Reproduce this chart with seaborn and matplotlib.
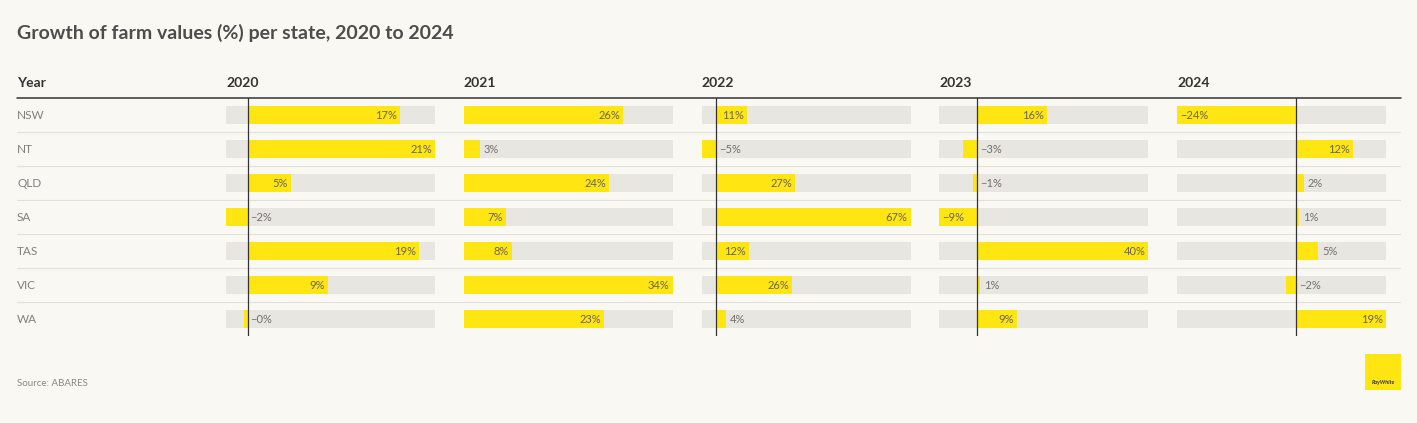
import pandas as pd
import matplotlib.pyplot as plt
import seaborn as sns
from matplotlib.patches import Rectangle

# data (one decimal, labels are rounded)
states = ['NSW', 'NT', 'QLD', 'SA', 'TAS', 'VIC', 'WA']
years = ['2020', '2021', '2022', '2023', '2024']
growth_2020 = [16.9, 20.8, 4.8, -2.4, 19.0, 8.9, -0.4]
growth_2021 = [26.1, 2.6, 23.8, 6.9, 7.9, 34.3, 23.0]
growth_2022 = [10.6, -4.9, 27.4, 67.0, 11.5, 26.3, 3.6]
growth_2023 = [16.4, -3.1, -0.8, -8.7, 40.0, 0.8, 9.4]
growth_2024 = [-24.4, 11.7, 1.6, 0.7, 4.6, -2.0, 18.6]
growth = [growth_2020, growth_2021, growth_2022, growth_2023, growth_2024]

title = 'Growth of farm values (%) per state, 2020 to 2024'
source = 'Source: ABARES'

bg = '#f9f8f3'
yellow = '#ffe512'
track = '#e7e6e1'
sep = '#e2e1dc'
dark = '#333333'

sns.set_theme(style='white', rc={'figure.facecolor': bg, 'axes.facecolor': bg})
plt.rcParams['font.family'] = ['Lato', 'DejaVu Sans']

W, H = 1417, 423
fig = plt.figure(figsize=(W / 100, H / 100), dpi=100)


def box(x0, y0, x1, y1):
    # pixel box -> figure fraction
    return [x0 / W, 1 - y1 / H, (x1 - x0) / W, (y1 - y0) / H]


top, bottom = 98, 336
n = len(states)

# row separators + state names
gax = fig.add_axes(box(17, top, 1401, bottom))
gax.set_xlim(0, 1)
gax.set_ylim(n - 0.5, -0.5)
gax.axis('off')
for i in range(1, n):
    gax.axhline(i - 0.5, color=sep, lw=0.8)
gax.axhline(-0.5, color=dark, lw=1.1, clip_on=False)
for i, s in enumerate(states):
    gax.text(0, i, s, ha='left', va='center', fontsize=8.5, color='#808080')

fig.text(17 / W, 1 - 83 / H, 'Year', ha='left', va='center', fontsize=10, fontweight='bold', color=dark)

col_w = 209
for k, (year, vals) in enumerate(zip(years, growth)):
    left = 226 + 237.8 * k
    ax = fig.add_axes(box(left, top, left + col_w, bottom))
    ax.patch.set_visible(False)
    df = pd.DataFrame({'state': states, 'value': vals})
    lo, hi = min(0, min(vals)), max(0, max(vals))

    kw = dict(y='state', orient='h', width=18 / 34, errorbar=None, saturation=1, linewidth=0, ax=ax)
    sns.barplot(data=df.assign(v=hi), x='v', color=track, **kw)
    if lo < 0:
        sns.barplot(data=df.assign(v=lo), x='v', color=track, **kw)
    sns.barplot(data=df, x='value', color=yellow, **kw)

    ax.set_xlim(lo, hi)
    ax.set_ylim(n - 0.5, -0.5)
    ax.axis('off')
    if lo < 0:
        ax.axvline(0, color=dark, lw=0.9)

    px_per = col_w / (hi - lo)
    for i, v in enumerate(vals):
        lab = f'{v:.0f}%'.replace('-', '\u2212')
        fits = abs(v) * px_per >= len(lab) * 7 + 9
        if v >= 0:
            x, dx, ha = v, (-3 if fits else 4), ('right' if fits else 'left')
        else:
            x, dx, ha = (v if fits else 0), 3, 'left'
        ax.annotate(lab, (x, i), xytext=(dx * 0.72, 0), textcoords='offset points',
                    ha=ha, va='center', fontsize=8,
                    color='#66645a' if fits else '#707070')

    fig.text(left / W, 1 - 83 / H, year, ha='left', va='center', fontsize=10, fontweight='bold', color=dark)

fig.text(17 / W, 1 - 33 / H, title, ha='left', va='center', fontsize=14, fontweight='bold', color='#4d4d4d')
fig.text(17 / W, 1 - 383 / H, source, ha='left', va='center', fontsize=7, color='#888888')

# logo block
fig.patches.append(Rectangle((1365 / W, 1 - 390 / H), 36 / W, 36 / H, transform=fig.transFigure,
                             facecolor=yellow, edgecolor='none'))
fig.text(1383 / W, 1 - 382 / H, 'RayWhite', ha='center', va='center', fontsize=4,
         fontstyle='italic', fontweight='bold', color=dark)

fig.savefig('out.png', dpi=100, facecolor=bg)
